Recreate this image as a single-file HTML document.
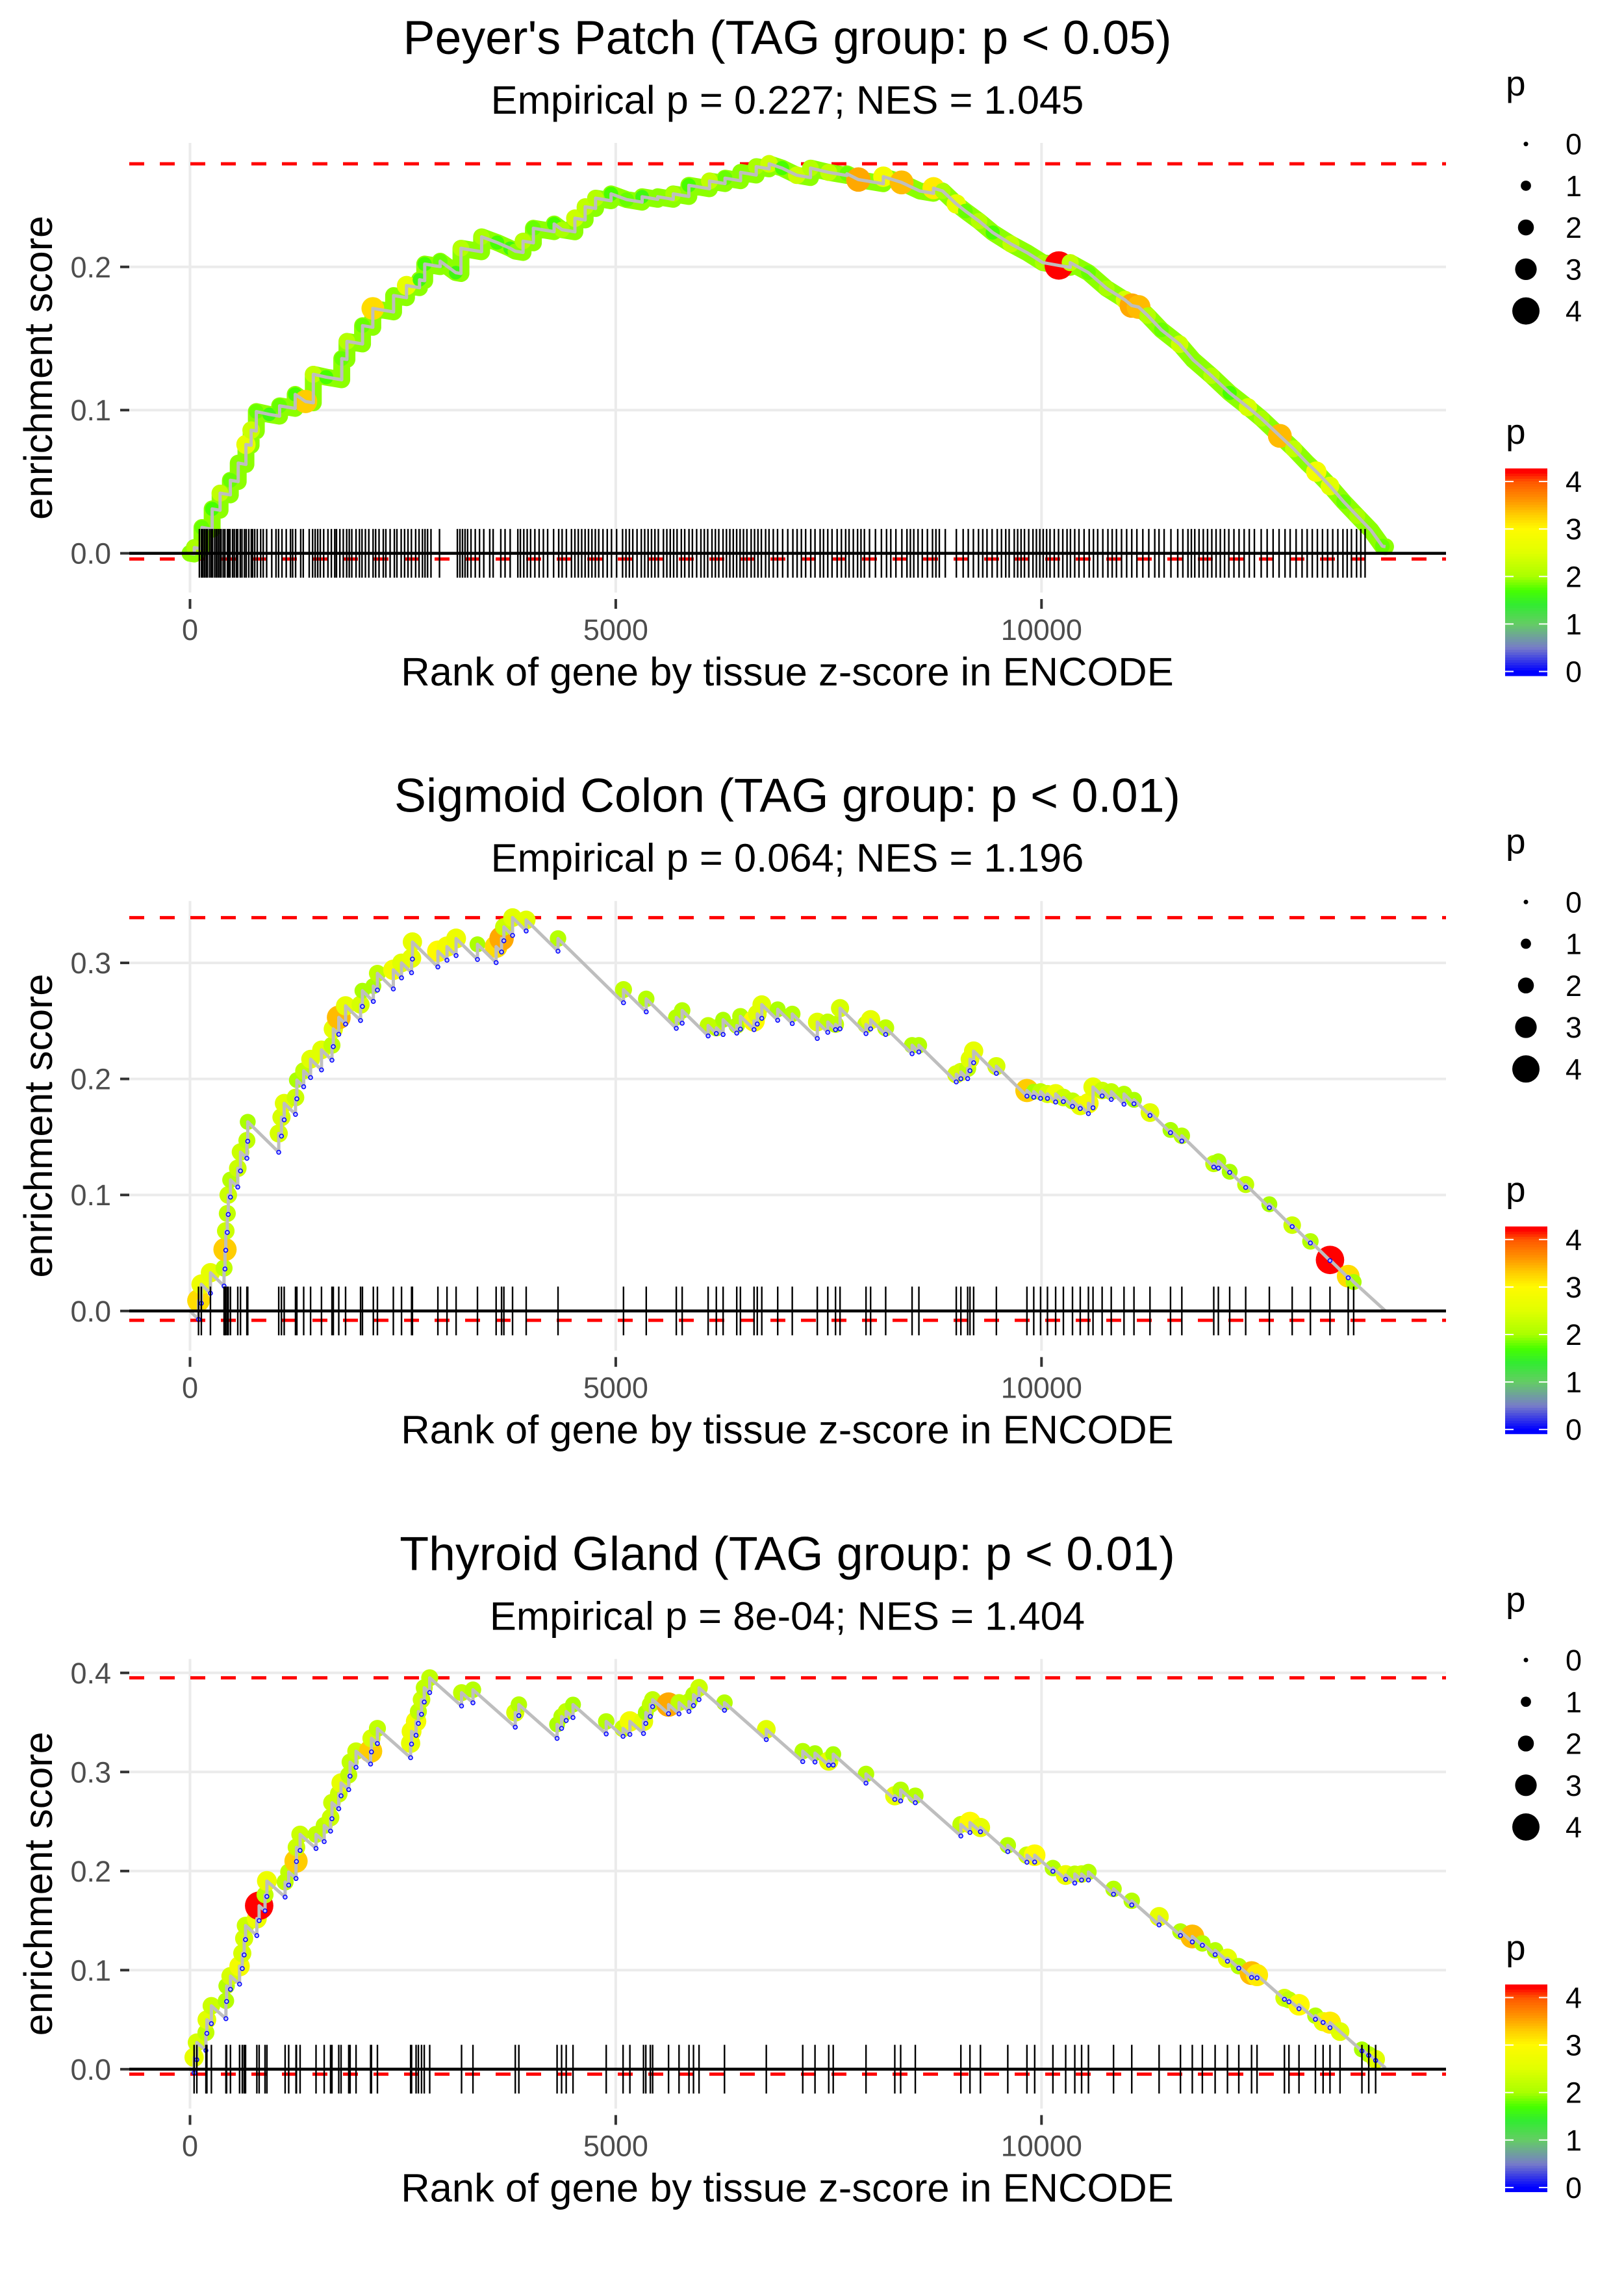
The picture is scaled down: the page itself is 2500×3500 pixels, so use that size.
<!DOCTYPE html>
<html><head><meta charset="utf-8"><style>
html,body{margin:0;padding:0;background:#fff}
svg{display:block;font-family:"Liberation Sans",Arial,sans-serif}
</style></head><body>
<svg id="chart" xmlns="http://www.w3.org/2000/svg" width="2500" height="3500" viewBox="0 0 2500 3500">
<rect width="2500" height="3500" fill="#fff"/>
</svg>
<script>
// ---------- data ----------
const xTicks = [0, 5000, 10000];
const xTickLabels = ["0", "5000", "10000"];
const nGenes = 14040;

const titles = ["Peyer's Patch (TAG group: p < 0.05)", "Sigmoid Colon (TAG group: p < 0.01)", "Thyroid Gland (TAG group: p < 0.01)"];
const subtitles = ["Empirical p = 0.227; NES = 1.045", "Empirical p = 0.064; NES = 1.196", "Empirical p = 8e-04; NES = 1.404"];
const p1YTicks = [0, 0.1, 0.2];
const p2YTicks = [0, 0.1, 0.2, 0.3];
const p3YTicks = [0, 0.1, 0.2, 0.3, 0.4];
const missSlopes = [0.00001, 0.000072, 0.000076];
const esMinValues = [-0.004, -0.008, -0.005];

const p1Ranks = [50,140,260,353,474,566,657,718,779,930,1052,1235,1357,1448,1600,1782,1843,2026,2147,2391,2543,2695,2756,2938,3121,3182,3425,3607,3759,3820,3911,4033,4276,4368,4520,4641,4763,4945,5128,5310,5493,5675,5858,6101,6283,6466,6649,6801,6953,7126,7287,7501,7715,7849,8143,8357,8571,8732,8839,8999,9106,9267,9427,9641,9829,10016,10203,10337,10551,10765,10979,11060,11140,11247,11408,11622,11782,11996,12210,12424,12585,12799,12960,13120,13227,13388,13549,13709,13870,14003];
const p1ES = [0.004,0.018,0.031,0.042,0.051,0.063,0.076,0.086,0.099,0.097,0.103,0.111,0.106,0.125,0.123,0.136,0.148,0.159,0.171,0.180,0.187,0.191,0.202,0.204,0.196,0.213,0.221,0.217,0.213,0.211,0.218,0.227,0.230,0.226,0.234,0.242,0.248,0.251,0.247,0.249,0.249,0.251,0.257,0.260,0.262,0.266,0.270,0.272,0.269,0.264,0.269,0.266,0.265,0.261,0.263,0.259,0.253,0.255,0.253,0.244,0.239,0.232,0.224,0.216,0.210,0.203,0.201,0.203,0.196,0.185,0.177,0.173,0.172,0.166,0.156,0.146,0.135,0.124,0.112,0.102,0.094,0.082,0.073,0.063,0.057,0.047,0.036,0.026,0.016,0.005];
const p1P = [2.0,1.8,1.7,2.2,1.8,1.9,2.6,2.3,1.8,1.6,1.8,1.7,3.3,2.2,1.7,1.8,2.1,1.8,3.2,1.9,2.6,1.6,1.7,1.8,1.6,2.1,2.0,1.7,1.6,1.9,2.1,1.8,1.7,2.0,2.3,2.2,2.1,1.7,1.8,1.6,1.9,2.0,1.7,2.2,1.8,1.9,2.0,2.3,1.7,2.3,2.1,2.2,1.8,3.5,2.8,3.4,1.9,3.1,2.0,2.6,1.8,2.1,1.7,2.2,1.9,2.0,4.2,2.2,1.8,2.0,2.4,3.5,3.4,2.1,1.8,2.3,1.9,2.1,1.7,2.4,2.0,3.4,2.2,1.9,2.8,2.5,1.8,2.0,1.9,1.8];
const p1Rug = [110,135,150,170,190,205,230,250,265,290,310,330,350,365,390,410,440,455,470,500,520,545,560,590,610,640,660,690,720,735,760,790,830,860,900,960,1010,1040,1080,1130,1180,1205,1240,1300,1330,1400,1440,1470,1500,1530,1570,1620,1660,1700,1720,1760,1800,1840,1870,1900,1950,1990,2020,2060,2100,2150,2180,2220,2270,2300,2350,2400,2430,2480,2520,2560,2600,2650,2690,2730,2760,2790,2830,2930,3140,3170,3200,3230,3260,3300,3350,3400,3450,3520,3560,3650,3700,3760,3850,3880,3920,3960,4000,4050,4100,4150,4200,4270,4330,4370,4420,4480,4520,4560,4600,4640,4680,4720,4760,4800,4850,4900,4950,5010,5080,5120,5160,5200,5250,5300,5340,5380,5420,5460,5500,5560,5600,5640,5680,5720,5770,5810,5860,5900,5950,6000,6040,6080,6130,6170,6210,6260,6300,6340,6380,6420,6460,6500,6540,6590,6630,6670,6710,6760,6800,6850,6900,6960,7020,7080,7130,7180,7230,7290,7340,7400,7440,7490,7540,7600,7650,7700,7740,7790,7840,7880,7920,7980,8050,8120,8180,8230,8290,8360,8420,8460,8500,8550,8600,8660,8720,8760,8800,8870,9000,9080,9140,9200,9260,9310,9360,9420,9480,9530,9580,9620,9680,9720,9760,9800,9850,9900,9940,9980,10020,10060,10100,10150,10200,10250,10300,10340,10390,10440,10500,10560,10610,10660,10720,10780,10830,10880,10940,11000,11060,11120,11190,11260,11330,11380,11440,11520,11600,11660,11720,11760,11800,11850,11900,11950,12000,12050,12100,12150,12200,12260,12320,12380,12440,12500,12580,12650,12720,12790,12860,12920,12990,13060,13120,13180,13240,13300,13360,13420,13480,13540,13590,13640,13700,13750,13800];

const p2Ranks = [100,133,240,400,411,420,438,449,475,561,593,668,678,1042,1074,1106,1239,1255,1335,1416,1544,1667,1683,1747,1827,2003,2025,2153,2201,2388,2484,2602,2612,2911,3018,3125,3376,3595,3659,3686,3788,3948,4322,5091,5358,5711,5780,6085,6181,6261,6421,6464,6624,6662,6715,6902,7073,7367,7490,7581,7634,7939,7993,8170,8480,8560,8999,9053,9133,9160,9203,9470,9829,9909,9989,10070,10166,10257,10364,10455,10551,10605,10712,10819,10969,11086,11274,11515,11648,12023,12077,12210,12398,12676,12944,13158,13388,13602,13666];
const p2ES = [0.009,0.023,0.033,0.037,0.053,0.069,0.084,0.100,0.113,0.123,0.137,0.147,0.163,0.153,0.167,0.179,0.184,0.199,0.207,0.217,0.225,0.229,0.243,0.253,0.263,0.264,0.276,0.280,0.291,0.294,0.300,0.304,0.318,0.310,0.314,0.321,0.316,0.314,0.321,0.331,0.339,0.337,0.321,0.277,0.269,0.253,0.259,0.246,0.244,0.251,0.246,0.254,0.250,0.256,0.264,0.260,0.256,0.249,0.249,0.247,0.261,0.247,0.251,0.244,0.229,0.229,0.204,0.206,0.209,0.217,0.224,0.211,0.190,0.189,0.189,0.187,0.187,0.184,0.181,0.177,0.179,0.193,0.190,0.189,0.187,0.182,0.171,0.156,0.151,0.127,0.129,0.120,0.109,0.092,0.074,0.060,0.044,0.030,0.025];
const p2P = [3.2,2.7,2.6,2.2,3.3,2.3,2.2,2.3,2.1,2.3,2.3,2.2,2.0,2.4,2.4,2.5,2.3,2.0,2.2,2.5,2.5,2.2,2.6,3.4,2.6,2.4,2.0,2.0,2.2,2.8,2.5,2.6,2.6,3.0,2.8,2.7,2.0,3.2,3.5,2.3,2.5,2.5,2.1,2.2,2.1,2.1,2.1,2.2,2.2,2.0,2.1,2.1,3.0,2.5,2.5,2.0,2.1,2.5,2.2,2.2,2.4,2.3,2.6,2.2,2.1,2.1,2.4,2.4,2.2,2.5,2.6,2.4,3.3,2.0,2.2,2.4,2.7,2.3,2.2,2.6,2.8,2.6,2.3,2.2,2.1,2.0,2.5,2.0,2.1,2.2,2.0,2.0,2.2,2.0,2.3,2.1,4.2,3.2,2.0];

const p3Ranks = [48,80,187,198,251,422,430,475,582,614,636,652,785,812,881,903,1117,1159,1245,1250,1293,1480,1576,1651,1667,1747,1774,1864,1880,1950,2121,2131,2201,2591,2602,2655,2682,2719,2751,2815,3189,3323,3820,3862,4311,4364,4418,4498,4888,5086,5166,5326,5353,5406,5433,5620,5743,5860,5913,5978,6277,6768,7196,7340,7501,7554,7939,8277,8346,8518,9053,9160,9283,9604,9829,9920,10134,10284,10391,10471,10551,10846,11060,11381,11632,11771,11889,12039,12184,12317,12467,12531,12853,12906,13024,13217,13307,13388,13506,13763,13843,13924];
const p3ES = [0.012,0.027,0.037,0.050,0.064,0.069,0.084,0.094,0.104,0.117,0.132,0.145,0.152,0.165,0.176,0.190,0.189,0.199,0.210,0.224,0.237,0.237,0.246,0.254,0.269,0.278,0.289,0.297,0.310,0.321,0.321,0.334,0.344,0.329,0.341,0.351,0.361,0.373,0.385,0.395,0.380,0.383,0.360,0.368,0.348,0.356,0.361,0.368,0.351,0.344,0.351,0.351,0.360,0.368,0.373,0.368,0.370,0.371,0.378,0.385,0.370,0.343,0.321,0.319,0.311,0.318,0.298,0.276,0.282,0.276,0.247,0.249,0.244,0.226,0.216,0.216,0.203,0.196,0.197,0.197,0.199,0.182,0.170,0.154,0.139,0.134,0.127,0.120,0.112,0.104,0.097,0.095,0.072,0.070,0.065,0.054,0.048,0.047,0.038,0.020,0.015,0.010];
const p3P = [2.6,2.4,2.2,2.5,2.3,2.1,2.1,2.4,2.8,2.4,2.4,2.3,2.7,4.2,2.2,2.7,2.2,2.2,3.3,2.3,2.3,2.2,2.2,2.3,2.3,2.3,2.6,2.2,2.2,2.3,3.3,2.4,2.2,2.6,2.7,2.8,2.2,2.3,2.2,2.2,2.2,2.1,2.4,2.1,2.0,2.1,2.2,2.0,2.1,2.3,2.8,2.6,2.0,2.2,2.2,3.5,2.2,2.2,2.1,2.3,2.1,2.5,2.1,2.0,2.6,2.0,2.1,2.6,2.1,2.1,2.2,3.0,2.6,2.1,2.3,3.0,2.1,2.7,2.2,2.3,2.1,2.1,2.1,2.6,2.1,3.4,2.1,2.1,2.6,2.1,3.4,3.1,2.4,2.2,3.0,2.1,2.6,3.1,2.5,2.0,2.1,2.5];

const sizeLegendValues = [0, 1, 2, 3, 4];
const colorLegendValues = [4, 3, 2, 1, 0];

// ---------- layout ----------
const NS = "http://www.w3.org/2000/svg";
const svg = document.getElementById("chart");
const panelLeft = 199, panelRight = 2226, panelCx = 1212;
const panelStep = 1166.7;
const zeroY = [851.6, 2017.8, 3184.8];
const unitPx = [2204, 1786, 1525];
const showMiss = [false, true, true];
const bandWidth = [26, 0, 0];
function X(r) { return 292.5 + r * 0.13108; }

const colorStops = [[0,[0,0,255]],[0.5,[120,125,200]],[1,[100,205,100]],[1.4,[50,235,50]],[1.7,[70,255,0]],[2,[170,255,0]],[2.5,[225,255,0]],[3,[255,250,0]],[3.3,[255,205,0]],[3.6,[255,150,0]],[4,[255,85,0]],[4.2,[255,0,0]]];
function pColor(p) {
  if (p <= colorStops[0][0]) return "rgb(0,0,255)";
  for (let i = 1; i < colorStops.length; i++) {
    if (p <= colorStops[i][0]) {
      const a = colorStops[i-1], b = colorStops[i], t = (p - a[0]) / (b[0] - a[0]);
      const c = a[1].map((v, k) => Math.round(v + (b[1][k] - v) * t));
      return "rgb(" + c.join(",") + ")";
    }
  }
  return "rgb(255,0,0)";
}
function diam(p) { return 7 + 8.75 * p; }

function mk(tag, attrs, parent) {
  const el = document.createElementNS(NS, tag);
  for (const k in attrs) el.setAttribute(k, attrs[k]);
  (parent || svg).appendChild(el);
  return el;
}

const panels = [
  { ranks: p1Ranks, es: p1ES, p: p1P, rug: p1Rug, yTicks: p1YTicks },
  { ranks: p2Ranks, es: p2ES, p: p2P, rug: p2Ranks, yTicks: p2YTicks },
  { ranks: p3Ranks, es: p3ES, p: p3P, rug: p3Ranks, yTicks: p3YTicks }
];

panels.forEach((pd, k) => {
  const dy = k * panelStep;
  const y0 = zeroY[k], u = unitPx[k];
  const Y = v => y0 - v * u;
  const slope = missSlopes[k];
  const top = 220 + dy, bottom = 912 + dy;
  const g = mk("g", {});
  
  

  const t = mk("text", { x: panelCx, y: 83 + dy, "text-anchor": "middle", "font-size": 73.5, fill: "#000" }, g);
  t.textContent = titles[k];
  
  
  const st = mk("text", { x: panelCx, y: 175 + dy, "text-anchor": "middle", "font-size": 61.5, fill: "#000" }, g);
  st.textContent = subtitles[k];
  
  

  pd.yTicks.forEach(v => {
    const gl = mk("line", { x1: panelLeft, x2: panelRight, y1: Y(v), y2: Y(v), stroke: "#ebebeb", "stroke-width": 4 }, g);
    
    
  });
  xTicks.forEach(r => {
    const gl = mk("line", { x1: X(r), x2: X(r), y1: top, y2: bottom, stroke: "#ebebeb", "stroke-width": 4 }, g);
    
    
  });
  pd.yTicks.forEach(v => {
    const tm = mk("line", { x1: 185, x2: 199, y1: Y(v), y2: Y(v), stroke: "#333", "stroke-width": 4 }, g);
    
    
    const tl = mk("text", { x: 171, y: Y(v) + 16, "text-anchor": "end", "font-size": 45, fill: "#4d4d4d" }, g);
    tl.textContent = v.toFixed(1);
    
    
  });
  xTicks.forEach((r, i) => {
    const tm = mk("line", { x1: X(r), x2: X(r), y1: 922 + dy, y2: 937 + dy, stroke: "#333", "stroke-width": 4 }, g);
    
    
    const tl = mk("text", { x: X(r), y: 985 + dy, "text-anchor": "middle", "font-size": 45, fill: "#4d4d4d" }, g);
    tl.textContent = xTickLabels[i];
    
    
  });
  const xt = mk("text", { x: panelCx, y: 1055 + dy, "text-anchor": "middle", "font-size": 61.5, fill: "#000" }, g);
  xt.textContent = "Rank of gene by tissue z-score in ENCODE";
  
  
  const yt = mk("text", { x: 0, y: 0, transform: "translate(80," + (566 + dy) + ") rotate(-90)", "text-anchor": "middle", "font-size": 61, fill: "#000" }, g);
  yt.textContent = "enrichment score";
  
  

  const pts = [[0, 0]];
  const bottoms = [];
  let prev = 0, prevR = 0;
  pd.ranks.forEach((r, i) => {
    const bot = Math.min(prev - slope * (r - prevR), pd.es[i]);
    pts.push([r, bot]);
    if (bot < pd.es[i]) bottoms.push([r, bot]);
    pts.push([r, pd.es[i]]);
    prev = pd.es[i]; prevR = r;
  });
  pts.push([nGenes, Math.max(0, prev - slope * (nGenes - prevR))]);
  const esMax = Math.max(...pd.es);
  const esMin = esMinValues[k];
  const pathD = pts.map((q, i) => (i ? "L" : "M") + X(q[0]).toFixed(1) + "," + Y(q[1]).toFixed(1)).join("");

  [esMax, esMin].forEach((v, i) => {
    const dl = mk("line", { x1: panelLeft, x2: panelRight, y1: Y(v), y2: Y(v), stroke: "#ff0000", "stroke-width": 5, "stroke-dasharray": "23 24" }, g);
    
    
  });

  if (bandWidth[k] > 0) {
    const band = mk("path", { d: pathD, fill: "none", stroke: "rgb(140,255,0)", "stroke-width": bandWidth[k], "stroke-linejoin": "round", "stroke-linecap": "round" }, g);
    
    
  }

  pd.ranks.forEach((r, i) => {
    const c = mk("circle", { cx: X(r), cy: Y(pd.es[i]), r: diam(pd.p[i]) / 2, fill: pColor(pd.p[i]) }, g);
    
    
  });
  const path = mk("path", { d: pathD, fill: "none", stroke: "#bebebe", "stroke-width": 5, "stroke-linejoin": "round" }, g);
  
  
  if (showMiss[k]) {
    bottoms.forEach(q => {
      const c = mk("circle", { cx: X(q[0]), cy: Y(q[1]), r: 3, fill: "#bbbbff", stroke: "#0000ff", "stroke-width": 1.5 }, g);
      
      
    });
  }

  const rg = mk("g", {}, g);
  
  
  pd.rug.forEach(r => {
    const l = mk("line", { x1: X(r), x2: X(r), y1: y0 - 37.5, y2: y0 + 37.5, stroke: "#000", "stroke-width": 2.4 }, rg);
    
    
  });
  const zl = mk("line", { x1: panelLeft, x2: panelRight, y1: y0, y2: y0, stroke: "#000", "stroke-width": 4.5 }, g);
  
  

  const lg = mk("g", {}, g);
  
  
  const lt = mk("text", { x: 2318, y: 147 + dy, "font-size": 55, fill: "#000" }, lg);
  lt.textContent = "p";
  
  
  sizeLegendValues.forEach((v, i) => {
    const cy = 221.6 + i * 64.25 + dy;
    const c = mk("circle", { cx: 2349, cy: cy, r: diam(v) / 2, fill: "#000" }, lg);
    
    
    const tx = mk("text", { x: 2410, y: cy + 16, "font-size": 45, fill: "#000" }, lg);
    tx.textContent = String(v);
    
    
  });
  const cg = mk("g", {}, g);
  
  
  const ct = mk("text", { x: 2318, y: 683 + dy, "font-size": 55, fill: "#000" }, cg);
  ct.textContent = "p";
  
  
  const barTop = 721 + dy, barBot = 1040 + dy;
  const cb0 = 1033.5 + dy, cbu = 73.1;
  const nSeg = 80;
  for (let s = 0; s < nSeg; s++) {
    const ya = barTop + (barBot - barTop) * s / nSeg;
    const v = (cb0 - (ya + (barBot - barTop) / nSeg / 2)) / cbu;
    const rr = mk("rect", { x: 2317, y: ya, width: 65, height: (barBot - barTop) / nSeg + 0.6, fill: pColor(v) }, cg);
    
    
  }
  colorLegendValues.forEach(v => {
    const yy = cb0 - v * cbu;
    [[2317, 2330], [2369, 2382]].forEach(xx => {
      const tm = mk("line", { x1: xx[0], x2: xx[1], y1: yy, y2: yy, stroke: "#fff", "stroke-width": 2 }, cg);
      
      
    });
    const tx = mk("text", { x: 2410, y: yy + 16, "font-size": 45, fill: "#000" }, cg);
    tx.textContent = String(v);
    
    
  });
});
</script>
</body></html>
